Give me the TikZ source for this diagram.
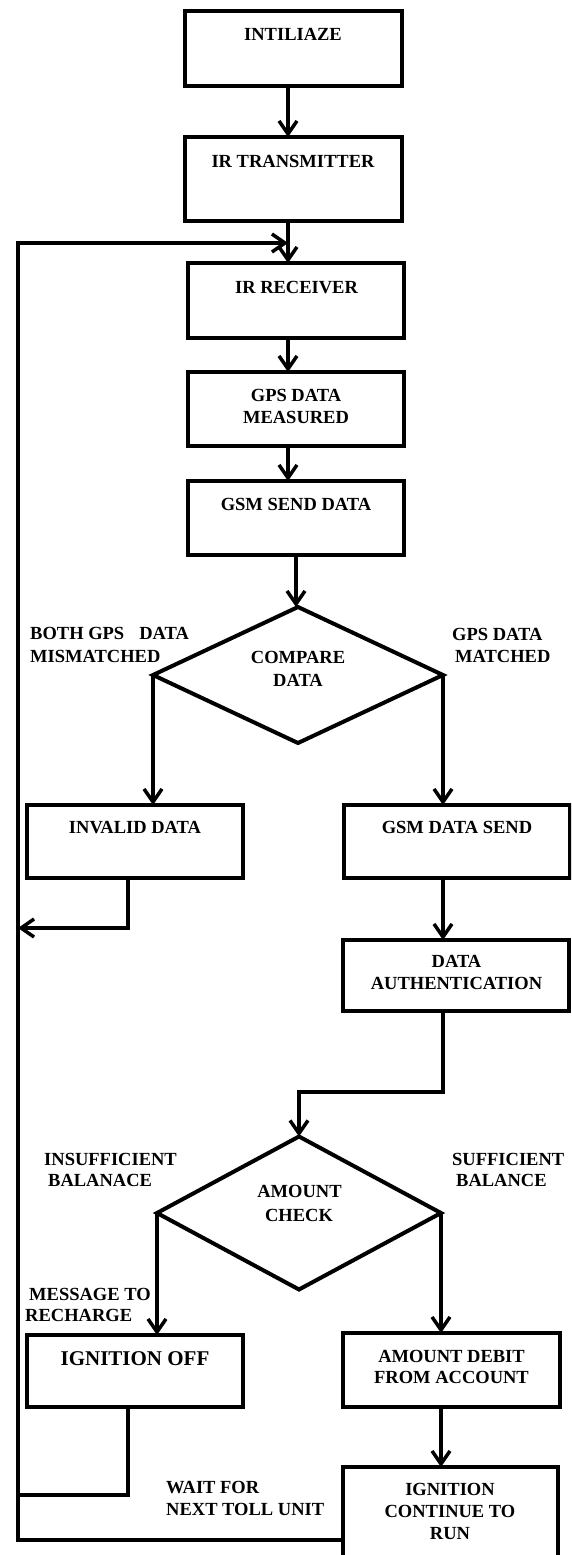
\documentclass[tikz,border=0pt]{standalone}
\usepackage{fontspec}
\setmainfont{Liberation Serif}
\usetikzlibrary{arrows.meta,shapes.geometric}
\begin{document}
\begin{tikzpicture}[x=1pt,y=-1pt,line join=miter,
 box/.style={draw, line width=4pt, rectangle, inner sep=0pt, outer sep=0pt},
 dec/.style={draw, line width=4pt, diamond, inner sep=0pt, outer sep=0pt},
 conn/.style={line width=3.5pt},
 arr/.style={line width=3.5pt, -{Straight Barb[length=13pt,width=18pt]}},
 txt/.style={font=\fontsize{18.5}{22}\selectfont\bfseries, inner sep=0pt, anchor=base},
 bigtxt/.style={font=\fontsize{21}{25}\selectfont\bfseries, inner sep=0pt, anchor=base},
 ltxt/.style={txt, anchor=base west}]
\useasboundingbox (0,0) rectangle (571,1555);
\fill[white] (0,0) rectangle (571,1555);
\clip (0,0) rectangle (571,1555);

% boxes
\node[box, minimum width=217pt, minimum height=75pt] (init) at (293.5,48.5) {};
\node[box, minimum width=217pt, minimum height=84pt] (irt) at (293.5,179) {};
\node[box, minimum width=216pt, minimum height=75pt] (irr) at (296,300.5) {};
\node[box, minimum width=216pt, minimum height=74pt] (gps) at (296,409) {};
\node[box, minimum width=216pt, minimum height=74pt] (gsm) at (296,518) {};
\node[dec, minimum width=290pt, minimum height=136pt] (cmp) at (298,675) {};
\node[box, minimum width=216pt, minimum height=73pt] (inv) at (135,841.5) {};
\node[box, minimum width=226pt, minimum height=73pt] (gds) at (457,841.5) {};
\node[box, minimum width=226pt, minimum height=71pt] (auth) at (456,975.5) {};
\node[dec, minimum width=284pt, minimum height=153pt] (amt) at (299,1213) {};
\node[box, minimum width=216pt, minimum height=72pt] (ign) at (135,1371) {};
\node[box, minimum width=217pt, minimum height=74pt] (deb) at (451.5,1370) {};
\node[box, minimum width=215pt, minimum height=113pt] (icr) at (450.5,1523.5) {};

% texts
\node[txt] (t1) at (293,41) {INTILIAZE};
\node[txt] (t2) at (293,167) {IR TRANSMITTER};
\node[txt] (t3) at (296.5,293) {IR RECEIVER};
\node[txt] (t4a) at (296,401) {GPS DATA};
\node[txt] (t4b) at (296,423) {MEASURED};
\node[txt] (t5) at (296,510) {GSM SEND DATA};
\node[txt] (t6a) at (298,663) {COMPARE};
\node[txt] (t6b) at (298,686) {DATA};
\node[ltxt] (l1a) at (30,639) {BOTH GPS\hspace{15pt}DATA};
\node[ltxt] (l1b) at (30,662) {MISMATCHED};
\node[ltxt] (l2a) at (452,640) {GPS DATA};
\node[ltxt] (l2b) at (455,662) {MATCHED};
\node[txt] (t7) at (135,833) {INVALID DATA};
\node[txt] (t8) at (457,833) {GSM DATA SEND};
\node[txt] (t9a) at (456.5,967) {DATA};
\node[txt] (t9b) at (456.5,989) {AUTHENTICATION};
\node[ltxt] (l3a) at (44,1165) {INSUFFICIENT};
\node[ltxt] (l3b) at (48,1186) {BALANACE};
\node[txt] (t10a) at (299.5,1197) {AMOUNT};
\node[txt] (t10b) at (299,1221) {CHECK};
\node[ltxt] (l4a) at (452,1165) {SUFFICIENT};
\node[ltxt] (l4b) at (456,1186) {BALANCE};
\node[ltxt] (l5a) at (29,1300) {MESSAGE TO};
\node[ltxt] (l5b) at (25,1321) {RECHARGE};
\node[bigtxt] (t11) at (135,1365) {IGNITION OFF};
\node[txt] (t12a) at (451.5,1362) {AMOUNT DEBIT};
\node[txt] (t12b) at (451.5,1383) {FROM ACCOUNT};
\node[txt] (t13a) at (450,1495) {IGNITION};
\node[txt] (t13b) at (450,1517) {CONTINUE TO};
\node[txt] (t13c) at (450,1539) {RUN};
\node[ltxt] (l6a) at (166,1493) {WAIT FOR};
\node[ltxt] (l6b) at (166,1515) {NEXT TOLL UNIT};

% helper coordinates
\coordinate (ax) at (288,0);
\coordinate (merge) at (288,243);
\coordinate (lx) at (18,0);
\coordinate (j1) at (0,1092);
\coordinate (r1) at (128,928);
\coordinate (r2) at (128,1495);
\coordinate (lb) at (18,1540);

% connectors
\draw[arr] (init.south -| ax) -- (irt.north -| ax);
\draw[arr] (irt.south -| ax) -- (irr.north -| ax);
\draw[arr] (irr.south -| ax) -- (gps.north -| ax);
\draw[arr] (gps.south -| ax) -- (gsm.north -| ax);
\draw[arr] (gsm.south) -- (gsm.south |- cmp.north);
\draw[arr] (cmp.west) -- (cmp.west |- inv.north);
\draw[arr] (cmp.east) -- (cmp.east |- gds.north);
\draw[arr] (cmp.east |- gds.south) -- (cmp.east |- auth.north);
\draw[arr] (cmp.east |- auth.south) -- (cmp.east |- j1) -- (amt.north |- j1) -- (amt.north);
\draw[arr] (amt.west) -- (amt.west |- ign.north);
\draw[arr] (amt.east) -- (amt.east |- deb.north);
\draw[arr] (amt.east |- deb.south) -- (amt.east |- icr.north);
\draw[arr] (inv.south -| r1) -- (r1) -- (lx |- r1);
\draw[conn] (ign.south -| r2) -- (r2) -- (lx |- r2);
\draw[arr] (icr.west |- lb) -- (lb) -- (lb |- merge) -- (merge);
\end{tikzpicture}
\end{document}
